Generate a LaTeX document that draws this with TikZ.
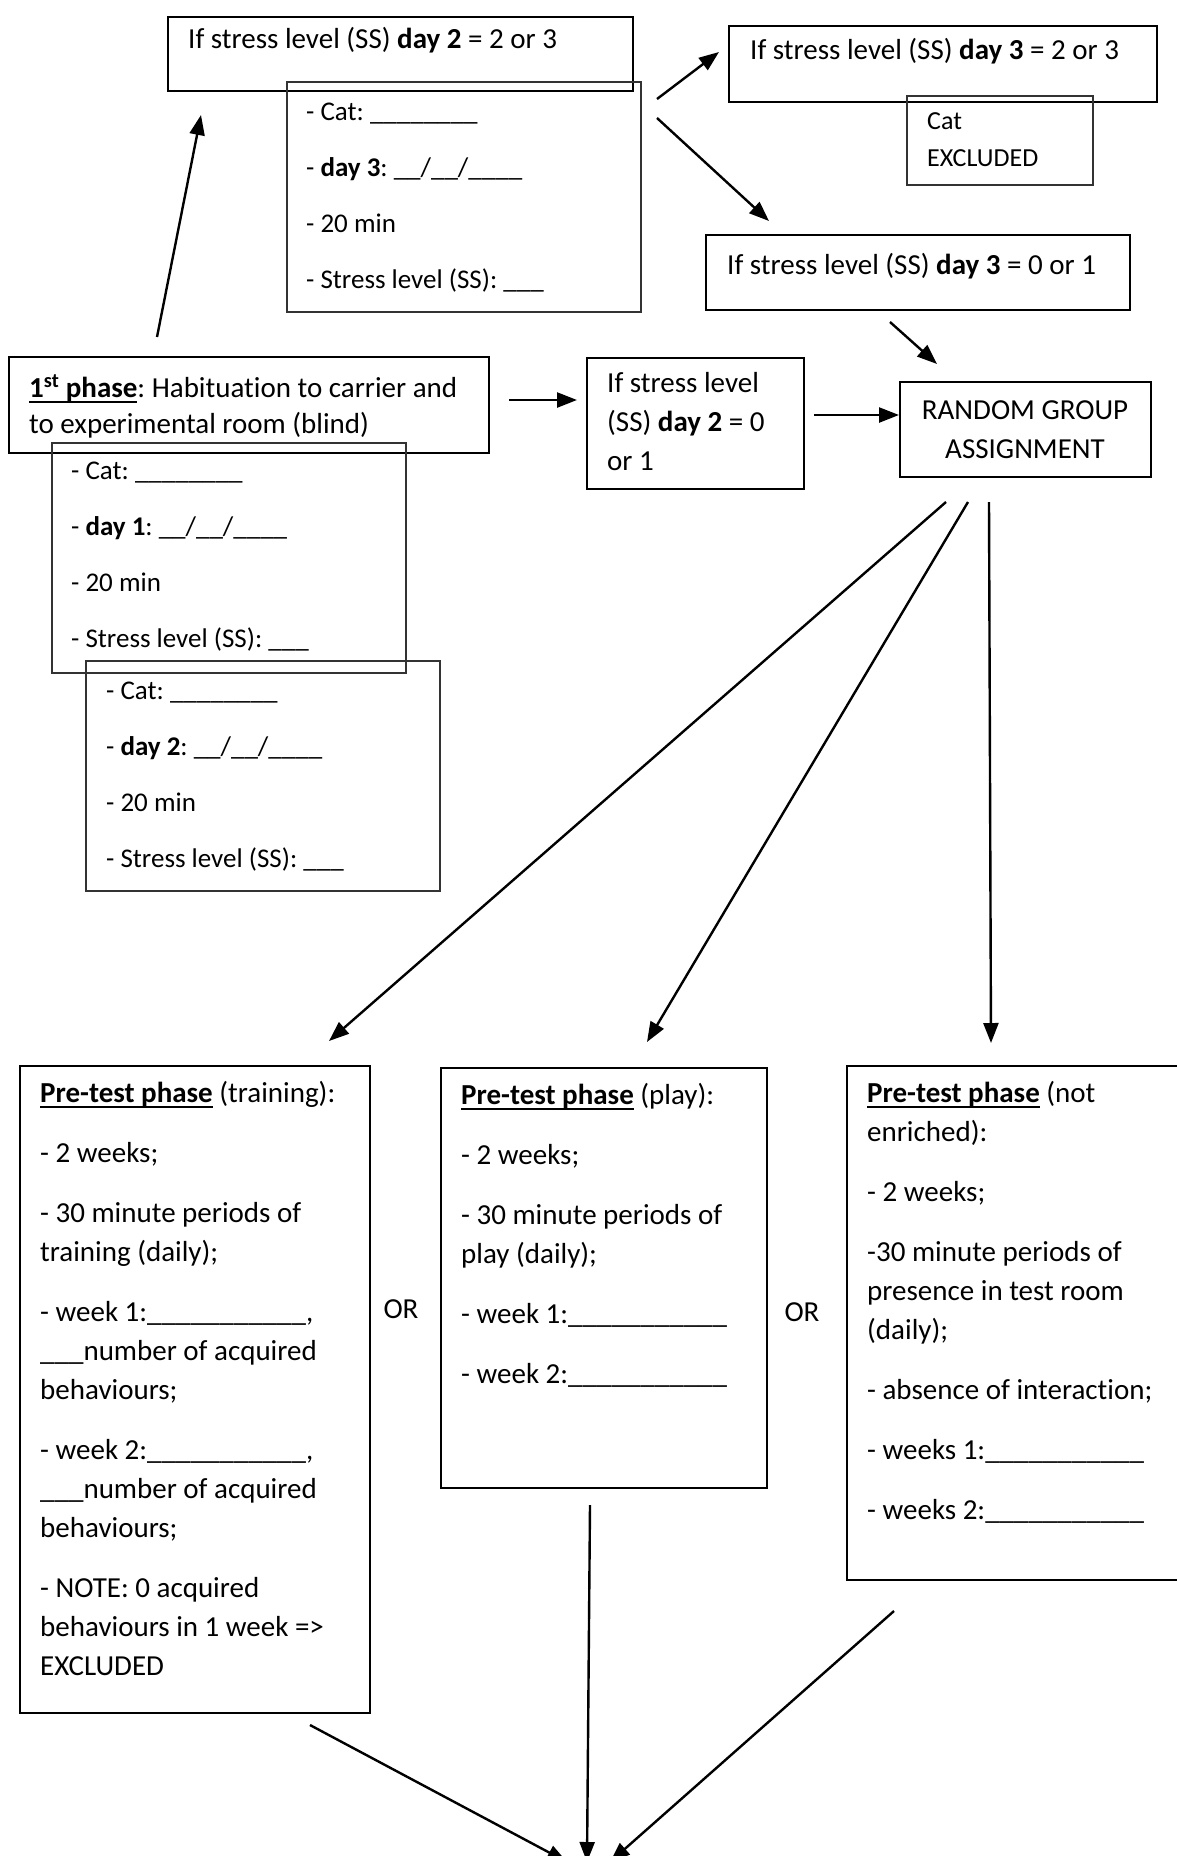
\documentclass[tikz,border=0pt]{standalone}
\usepackage{fontspec}
\setmainfont{Carlito}[Ligatures=NoCommon]
\usetikzlibrary{arrows.meta}
\newcommand{\fsz}{\fontsize{29}{39}\selectfont}
\newcommand{\fsi}{\fontsize{27}{39}\selectfont}
\newcommand{\fsm}{\fontsize{26}{37}\selectfont}
\newcommand{\natsp}{\spaceskip=0.226em\relax\xspaceskip=0.226em\relax}
\newcommand{\myul}[1]{\setbox0\hbox{#1}\rlap{\rule[-6.2pt]{\wd0}{2.5pt}}\box0\relax}
\tikzset{
  mbox/.style={draw=black, line width=2.2pt, inner sep=0pt, rectangle},
  ibox/.style={draw=black!80, line width=1.3pt, inner sep=0pt, rectangle},
  txt/.style={anchor=base west, inner sep=0pt, align=flush left, text width=700pt, font=\fsz, execute at begin node=\natsp},
  itxt/.style={txt, font=\fsi},
  ctxt/.style={anchor=base, inner sep=0pt, align=flush center, text width=260pt, font=\fsz, execute at begin node=\natsp},
  arr/.style={line width=2.4pt, -{Triangle[length=20pt,width=15pt]}}
}
\begin{document}
\begin{tikzpicture}[x=1pt,y=-1pt]
\useasboundingbox (0,0) rectangle (1176,1856);
% boxes
\node[mbox, minimum width=465pt, minimum height=74pt] (A) at (400.5,54) {};
\node[ibox, minimum width=354pt, minimum height=230pt] (Ai) at (464,197) {};
\node[mbox, minimum width=428pt, minimum height=76pt] (B) at (943,64) {};
\node[ibox, minimum width=186pt, minimum height=89pt] (Bx) at (1000,140.5) {};
\node[mbox, minimum width=424pt, minimum height=75pt] (C) at (918,272.5) {};
\node[mbox, minimum width=251pt, minimum height=95pt] (D) at (1025.5,429.5) {};
\node[mbox, minimum width=217pt, minimum height=131pt] (E) at (695.5,423.5) {};
\node[mbox, minimum width=480pt, minimum height=96pt] (F) at (249,405) {};
\node[ibox, minimum width=354pt, minimum height=230pt] (F1) at (229,558) {};
\node[ibox, minimum width=354pt, minimum height=230pt] (F2) at (263,776) {};
\node[mbox, minimum width=350pt, minimum height=647pt] (G) at (195,1389.5) {};
\node[mbox, minimum width=326pt, minimum height=420pt] (H) at (604,1278) {};
\node[mbox, minimum width=338pt, minimum height=514pt] (I) at (1016,1323) {};
% texts
\node[txt] (tA) at (188,48) {If stress level (SS) \textbf{day 2} = 2 or 3};
\node[itxt] (tAi) at (306,120) {- Cat: \_\_\_\_\_\_\_\_\\[17pt]- \textbf{day 3}: \_\_/\_\_/\_\_\_\_\\[17pt]- 20 min\\[17pt]- Stress level (SS): \_\_\_};
\node[txt] (tB) at (750,59) {If stress level (SS) \textbf{day 3} = 2 or 3};
\node[txt, font=\fsm] (tBx) at (927,129) {Cat\\EXCLUDED};
\node[txt] (tC) at (727,274) {If stress level (SS) \textbf{day 3} = 0 or 1};
\node[ctxt] (tD) at (1025,419) {RANDOM GROUP\\ASSIGNMENT};
\node[txt] (tE) at (607,392) {If stress level\\(SS) \textbf{day 2} = 0\\or 1};
\node[txt] (tF) at (29,397) {\myul{\textbf{1\textsuperscript{st} phase}}: Habituation to carrier and\\[-3pt]to experimental room (blind)};
\node[itxt] (tF1) at (71,479) {- Cat: \_\_\_\_\_\_\_\_\\[17pt]- \textbf{day 1}: \_\_/\_\_/\_\_\_\_\\[17pt]- 20 min\\[17pt]- Stress level (SS): \_\_\_};
\node[itxt] (tF2) at (106,699) {- Cat: \_\_\_\_\_\_\_\_\\[17pt]- \textbf{day 2}: \_\_/\_\_/\_\_\_\_\\[17pt]- 20 min\\[17pt]- Stress level (SS): \_\_\_};
\node[txt] (tG) at (40,1102) {\myul{\textbf{Pre-test phase}} (training):\\[21pt]- 2 weeks;\\[21pt]- 30 minute periods of\\training (daily);\\[21pt]- week 1:\_\_\_\_\_\_\_\_\_\_\_,\\\_\_\_number of acquired\\behaviours;\\[21pt]- week 2:\_\_\_\_\_\_\_\_\_\_\_,\\\_\_\_number of acquired\\behaviours;\\[21pt]- NOTE: 0 acquired\\behaviours in 1 week =>\\EXCLUDED};
\node[txt] (tH) at (461,1104) {\myul{\textbf{Pre-test phase}} (play):\\[21pt]- 2 weeks;\\[21pt]- 30 minute periods of\\play (daily);\\[21pt]- week 1:\_\_\_\_\_\_\_\_\_\_\_\\[21pt]- week 2:\_\_\_\_\_\_\_\_\_\_\_};
\node[txt] (tI) at (867,1102) {\myul{\textbf{Pre-test phase}} (not\\enriched):\\[21pt]- 2 weeks;\\[21pt]-30 minute periods of\\presence in test room\\(daily);\\[21pt]- absence of interaction;\\[21pt]- weeks 1:\_\_\_\_\_\_\_\_\_\_\_\\[21pt]- weeks 2:\_\_\_\_\_\_\_\_\_\_\_};
\node[anchor=base, inner sep=0pt, font=\fsz] (or1) at (401,1318) {OR};
\node[anchor=base, inner sep=0pt, font=\fsz] (or2) at (802,1321) {OR};
% connector end points
\coordinate (u0) at (157,337); \coordinate (u1) at (201,115);
\coordinate (b0) at (657,99);  \coordinate (b1) at (719,52);
\coordinate (c0) at (657,118); \coordinate (c1) at (769,221);
\coordinate (d0) at (890,322); \coordinate (d1) at (937,364);
\coordinate (e0) at (814,415); \coordinate (e1) at (899,415);
\coordinate (f0) at (509,400); \coordinate (f1) at (577,400);
\coordinate (g0) at (946,502); \coordinate (g1) at (329,1041);
\coordinate (h0) at (968,502); \coordinate (h1) at (647,1042);
\coordinate (i0) at (989,502); \coordinate (i1) at (991,1043);
\coordinate (j0) at (310,1725); \coordinate (j1) at (567,1862);
\coordinate (k0) at (590,1505); \coordinate (k1) at (587,1862);
\coordinate (l0) at (894,1611); \coordinate (l1) at (610,1862);
% connectors
\draw[arr] (u0) -- (u1);
\draw[arr] (b0) -- (b1);
\draw[arr] (c0) -- (c1);
\draw[arr] (d0) -- (d1);
\draw[arr] (e0) -- (e1);
\draw[arr] (f0) -- (f1);
\draw[arr] (g0) -- (g1);
\draw[arr] (h0) -- (h1);
\draw[arr] (i0) -- (i1);
\draw[arr] (j0) -- (j1);
\draw[arr] (k0) -- (k1);
\draw[arr] (l0) -- (l1);
\end{tikzpicture}
\end{document}
